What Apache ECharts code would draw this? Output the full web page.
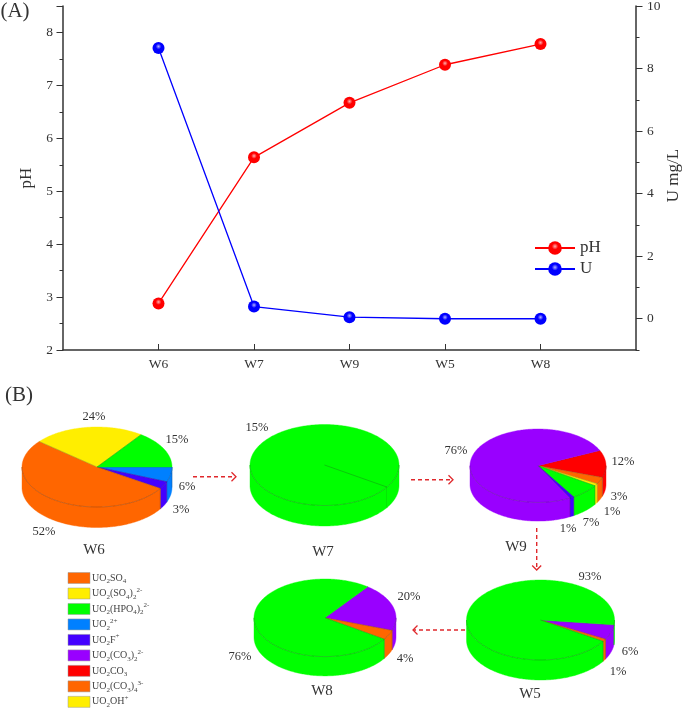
<!DOCTYPE html>
<html><head><meta charset="utf-8">
<style>html,body{margin:0;padding:0;background:#fff}#c{width:685px;height:708px}</style>
<script src="https://cdn.jsdelivr.net/npm/echarts@6/dist/echarts.min.js"></script>
</head><body><div id="c"></div>
<script>
const categories = ['', 'W6', 'W7', 'W9', 'W5', 'W8', ''];
const pH = [null, 2.88, 5.64, 6.67, 7.39, 7.78, null];
const U = [null, 8.66, 0.39, 0.05, 0, 0, null];

const W6_values = [6, 3, 52, 24, 15];
const W6_species = ['UO2(2+)', 'UO2F+', 'UO2SO4', 'UO2(SO4)2', 'UO2(HPO4)2'];
const W7_values = [100];
const W7_species = ['UO2(HPO4)2'];
const W9_values = [12, 3, 1, 7, 1, 76];
const W9_species = ['UO2CO3', 'UO2(CO3)4', 'UO2OH+', 'UO2(HPO4)2', 'UO2F+', 'UO2(CO3)2'];
const W5_values = [6, 1, 93];
const W5_species = ['UO2(CO3)2', 'UO2(CO3)4', 'UO2(HPO4)2'];
const W8_values = [20, 4, 76];
const W8_species = ['UO2(CO3)2', 'UO2(CO3)4', 'UO2(HPO4)2'];

const legendKeys = ['UO2SO4', 'UO2(SO4)2', 'UO2(HPO4)2', 'UO2(2+)', 'UO2F+', 'UO2(CO3)2', 'UO2CO3', 'UO2(CO3)4', 'UO2OH+'];
const legendText = [
  'UO{b|2}SO{b|4}', 'UO{b|2}(SO{b|4}){b|2}{t|2-}', 'UO{b|2}(HPO{b|4}){b|2}{t|2-}', 'UO{b|2}{t|2+}', 'UO{b|2}F{t|+}',
  'UO{b|2}(CO{b|3}){b|2}{t|2-}', 'UO{b|2}CO{b|3}', 'UO{b|2}(CO{b|3}){b|4}{t|3-}', 'UO{b|2}OH{t|+}'
];
const speciesColor = {
  'UO2SO4': '#ff6600', 'UO2(SO4)2': '#ffee00', 'UO2(HPO4)2': '#00ff00', 'UO2(2+)': '#0080ff', 'UO2F+': '#4400ff',
  'UO2(CO3)2': '#9900ff', 'UO2CO3': '#ff0000', 'UO2(CO3)4': '#ff6600', 'UO2OH+': '#ffee00'
};

const pies = [
  { values: W6_values, species: W6_species, start: 0,   cx: 97,    cy: 467,   rx: 75,   ry: 40,   d: 20.5 },
  { values: W7_values, species: W7_species, start: 33,  cx: 324.5, cy: 465,   rx: 74.5, ry: 40.5, d: 20.5 },
  { values: W9_values, species: W9_species, start: 335.5, cx: 538, cy: 465.7, rx: 68,   ry: 36.7, d: 18.7 },
  { values: W5_values, species: W5_species, start: 7,   cx: 540.5, cy: 620,   rx: 74,   ry: 40,   d: 20 },
  { values: W8_values, species: W8_species, start: 307, cx: 325,   cy: 617.8, rx: 71,   ry: 38.8, d: 19.3 }
];

const pieTexts = [
  ['24%', 94, 417], ['15%', 177, 440], ['6%', 187, 487], ['3%', 181, 510], ['52%', 44, 532],
  ['15%', 257, 428],
  ['76%', 456, 451], ['12%', 623, 462], ['3%', 619, 497], ['1%', 612, 512], ['7%', 591, 523], ['1%', 568, 529],
  ['93%', 590, 577], ['6%', 630, 652], ['1%', 618, 672],
  ['76%', 240, 657], ['20%', 409, 597], ['4%', 405, 659]
];
const pieNames = [['W6', 94, 550], ['W7', 323, 552], ['W9', 516, 547], ['W5', 530, 694], ['W8', 322, 691]];
const arrows = [
  [193, 476.7, 236, 476.7], [411, 479.7, 453, 479.7], [536.7, 528, 536.7, 570], [465, 630, 413, 630]
];

const FONT = '"Liberation Serif","Times New Roman",serif';
const TXT = '#333';

function sphere(c, glow) {
  return { type: 'radial', x: 0.5, y: 0.38, r: 0.62, colorStops: [
    { offset: 0, color: glow }, { offset: 0.38, color: c }, { offset: 1, color: c } ] };
}

function renderPie(p) {
  return function () {
    const total = p.values.reduce((a, b) => a + b, 0);
    const pt = (deg, dy) => {
      const r = deg * Math.PI / 180;
      return [p.cx + p.rx * Math.cos(r), p.cy + p.ry * Math.sin(r) + dy];
    };
    const sides = [], tops = [];
    const line = 'rgba(40,40,40,0.5)';
    let a = p.start;
    p.values.forEach((v, i) => {
      const span = v / total * 360, b = a + span;
      const fill = speciesColor[p.species[i]];
      const arc = [];
      for (let t = a; t < b; t += 1) arc.push(t);
      arc.push(b);
      tops.push({ type: 'polygon', shape: { points: (span < 360 ? [[p.cx, p.cy]] : []).concat(arc.map(t => pt(t, 0))) },
        style: { fill: fill, stroke: fill, lineWidth: 0.4 } });
      tops.push({ type: 'polyline', shape: { points: [[p.cx, p.cy], pt(a, 0)] }, style: { fill: null, stroke: line, lineWidth: 0.5 } });
      for (let k = -1; k <= 1; k++) {
        const s = Math.max(a, k * 360), e = Math.min(b, k * 360 + 180);
        if (e > s) {
          const ts = [];
          for (let t = s; t < e; t += 1) ts.push(t);
          ts.push(e);
          sides.push({ type: 'polygon', shape: { points: ts.map(t => pt(t, 0)).concat(ts.slice().reverse().map(t => pt(t, p.d))) },
            style: { fill: fill, stroke: fill, lineWidth: 0.4 } });
          if (s === a) sides.push({ type: 'polyline', shape: { points: [pt(a, 0), pt(a, p.d)] }, style: { fill: null, stroke: line, lineWidth: 0.5 } });
        }
      }
      a = b;
    });
    const front = [];
    for (let t = 0; t <= 180; t += 1) front.push(pt(t, 0));
    return { type: 'group', children: sides.concat(tops).concat([
      { type: 'polyline', shape: { points: front }, style: { fill: null, stroke: line, lineWidth: 0.5 } }
    ]) };
  };
}

const graphics = [];
const text = (s, x, y, size, extra) => graphics.push({
  type: 'text', x: x, y: y, silent: true,
  style: Object.assign({ text: s, font: size + 'px ' + FONT, fill: TXT, align: 'center', verticalAlign: 'middle' }, extra || {})
});
text('(A)', 15, 11, 21);
text('(B)', 19, 395, 21);
pieTexts.forEach(t => text(t[0], t[1], t[2], 12.5));
pieNames.forEach(t => text(t[0], t[1], t[2], 15));

const ARROW = '#e0282c';
arrows.forEach(r => {
  const [x1, y1, x2, y2] = r;
  const L = Math.hypot(x2 - x1, y2 - y1), ux = (x2 - x1) / L, uy = (y2 - y1) / L, h = 4.5;
  graphics.push({ type: 'line', silent: true, shape: { x1, y1, x2, y2 }, style: { stroke: ARROW, lineWidth: 1.4, lineDash: [4, 3] } });
  graphics.push({ type: 'polyline', silent: true,
    shape: { points: [[x2 - ux * h - uy * h, y2 - uy * h + ux * h], [x2, y2], [x2 - ux * h + uy * h, y2 - uy * h - ux * h]] },
    style: { fill: null, stroke: ARROW, lineWidth: 1.3 } });
});

legendKeys.forEach((k, i) => {
  const y = 578 + i * 15.48;
  graphics.push({ type: 'rect', silent: true, shape: { x: 68, y: y - 5.5, width: 22, height: 11 },
    style: { fill: speciesColor[k], stroke: '#999', lineWidth: 0.5 } });
  graphics.push({ type: 'text', silent: true, x: 92, y: y,
    style: { text: legendText[i], font: '10px ' + FONT, fill: '#444', align: 'left', verticalAlign: 'middle',
      lineHeight: 14,
      rich: {
        b: { font: '7px ' + FONT, fill: '#444', verticalAlign: 'bottom', lineHeight: 12 },
        t: { font: '7px ' + FONT, fill: '#444', verticalAlign: 'top', lineHeight: 12 }
      } } });
});

const axisLine = { show: true, onZero: false, lineStyle: { color: '#333', width: 1.5 } };
const chart = echarts.init(document.getElementById('c'), null, { renderer: 'canvas' });
chart.setOption({
  animation: false,
  backgroundColor: '#fff',
  textStyle: { fontFamily: FONT },
  legend: {
    data: ['pH', 'U'], orient: 'vertical', left: 534, top: 239.5, padding: 0, itemWidth: 40, itemHeight: 17, itemGap: 4,
    textStyle: { fontFamily: FONT, fontSize: 17, color: TXT }
  },
  grid: { left: 63, right: 49, top: 6, height: 344, containLabel: false, outerBoundsMode: 'none' },
  xAxis: {
    type: 'category', data: categories, boundaryGap: false,
    axisLine: axisLine,
    axisTick: { inside: true, length: 6, lineStyle: { color: '#333', width: 1 }, customValues: [1, 2, 3, 4, 5] },
    axisLabel: { fontFamily: FONT, fontSize: 13.5, color: TXT, margin: 7, customValues: [1, 2, 3, 4, 5], interval: 0 },
    splitLine: { show: false }
  },
  yAxis: [
    {
      type: 'value', min: 2, max: 8.5, interval: 1, position: 'left',
      name: 'pH', nameLocation: 'middle', nameGap: 26, nameRotate: 90,
      nameTextStyle: { fontFamily: FONT, fontSize: 17, color: TXT },
      axisLine: axisLine,
      axisTick: { show: true, length: 6.5, lineStyle: { color: '#333', width: 1 } },
      minorTick: { show: true, splitNumber: 2, length: 3.5, lineStyle: { color: '#333', width: 1 } },
      axisLabel: { fontFamily: FONT, fontSize: 13.5, color: TXT, margin: 10, customValues: [2, 3, 4, 5, 6, 7, 8] },
      splitLine: { show: false }
    },
    {
      type: 'value', min: -1, max: 10, interval: 1, position: 'right',
      name: 'U mg/L', nameLocation: 'middle', nameGap: 29, nameRotate: 90, nameMoveOverlap: false,
      nameTextStyle: { fontFamily: FONT, fontSize: 17, color: TXT, padding: [0, 0, 0, 5] },
      axisLine: axisLine,
      axisTick: { show: true, length: 6.5, lineStyle: { color: '#333', width: 1 }, customValues: [0, 2, 4, 6, 8, 10] },
      axisLabel: { fontFamily: FONT, fontSize: 13.5, color: TXT, margin: 11, customValues: [0, 2, 4, 6, 8, 10] },
      splitLine: { show: false }
    },
    {
      type: 'value', min: -1, max: 10, interval: 1, position: 'right',
      axisLine: { show: false, onZero: false },
      axisTick: { show: true, length: 3.5, lineStyle: { color: '#333', width: 1 }, customValues: [-1, 1, 3, 5, 7, 9] },
      axisLabel: { show: false },
      splitLine: { show: false }
    }
  ],
  series: [
    { name: 'pH', type: 'line', data: pH, yAxisIndex: 0, symbol: 'circle', symbolSize: 12, showAllSymbol: true, connectNulls: false,
      lineStyle: { color: '#ff0000', width: 1.3 }, itemStyle: { color: sphere('#ff0000', '#ffb0b0'), opacity: 1 } },
    { name: 'U', type: 'line', data: U, yAxisIndex: 1, symbol: 'circle', symbolSize: 12, showAllSymbol: true, connectNulls: false,
      lineStyle: { color: '#0000ff', width: 1.3 }, itemStyle: { color: sphere('#0000ff', '#b0b0ff'), opacity: 1 } }
  ].concat(pies.map(p => ({
    type: 'custom', coordinateSystem: 'none', silent: true, data: [0], renderItem: renderPie(p)
  }))),
  graphic: graphics
});
</script></body></html>
